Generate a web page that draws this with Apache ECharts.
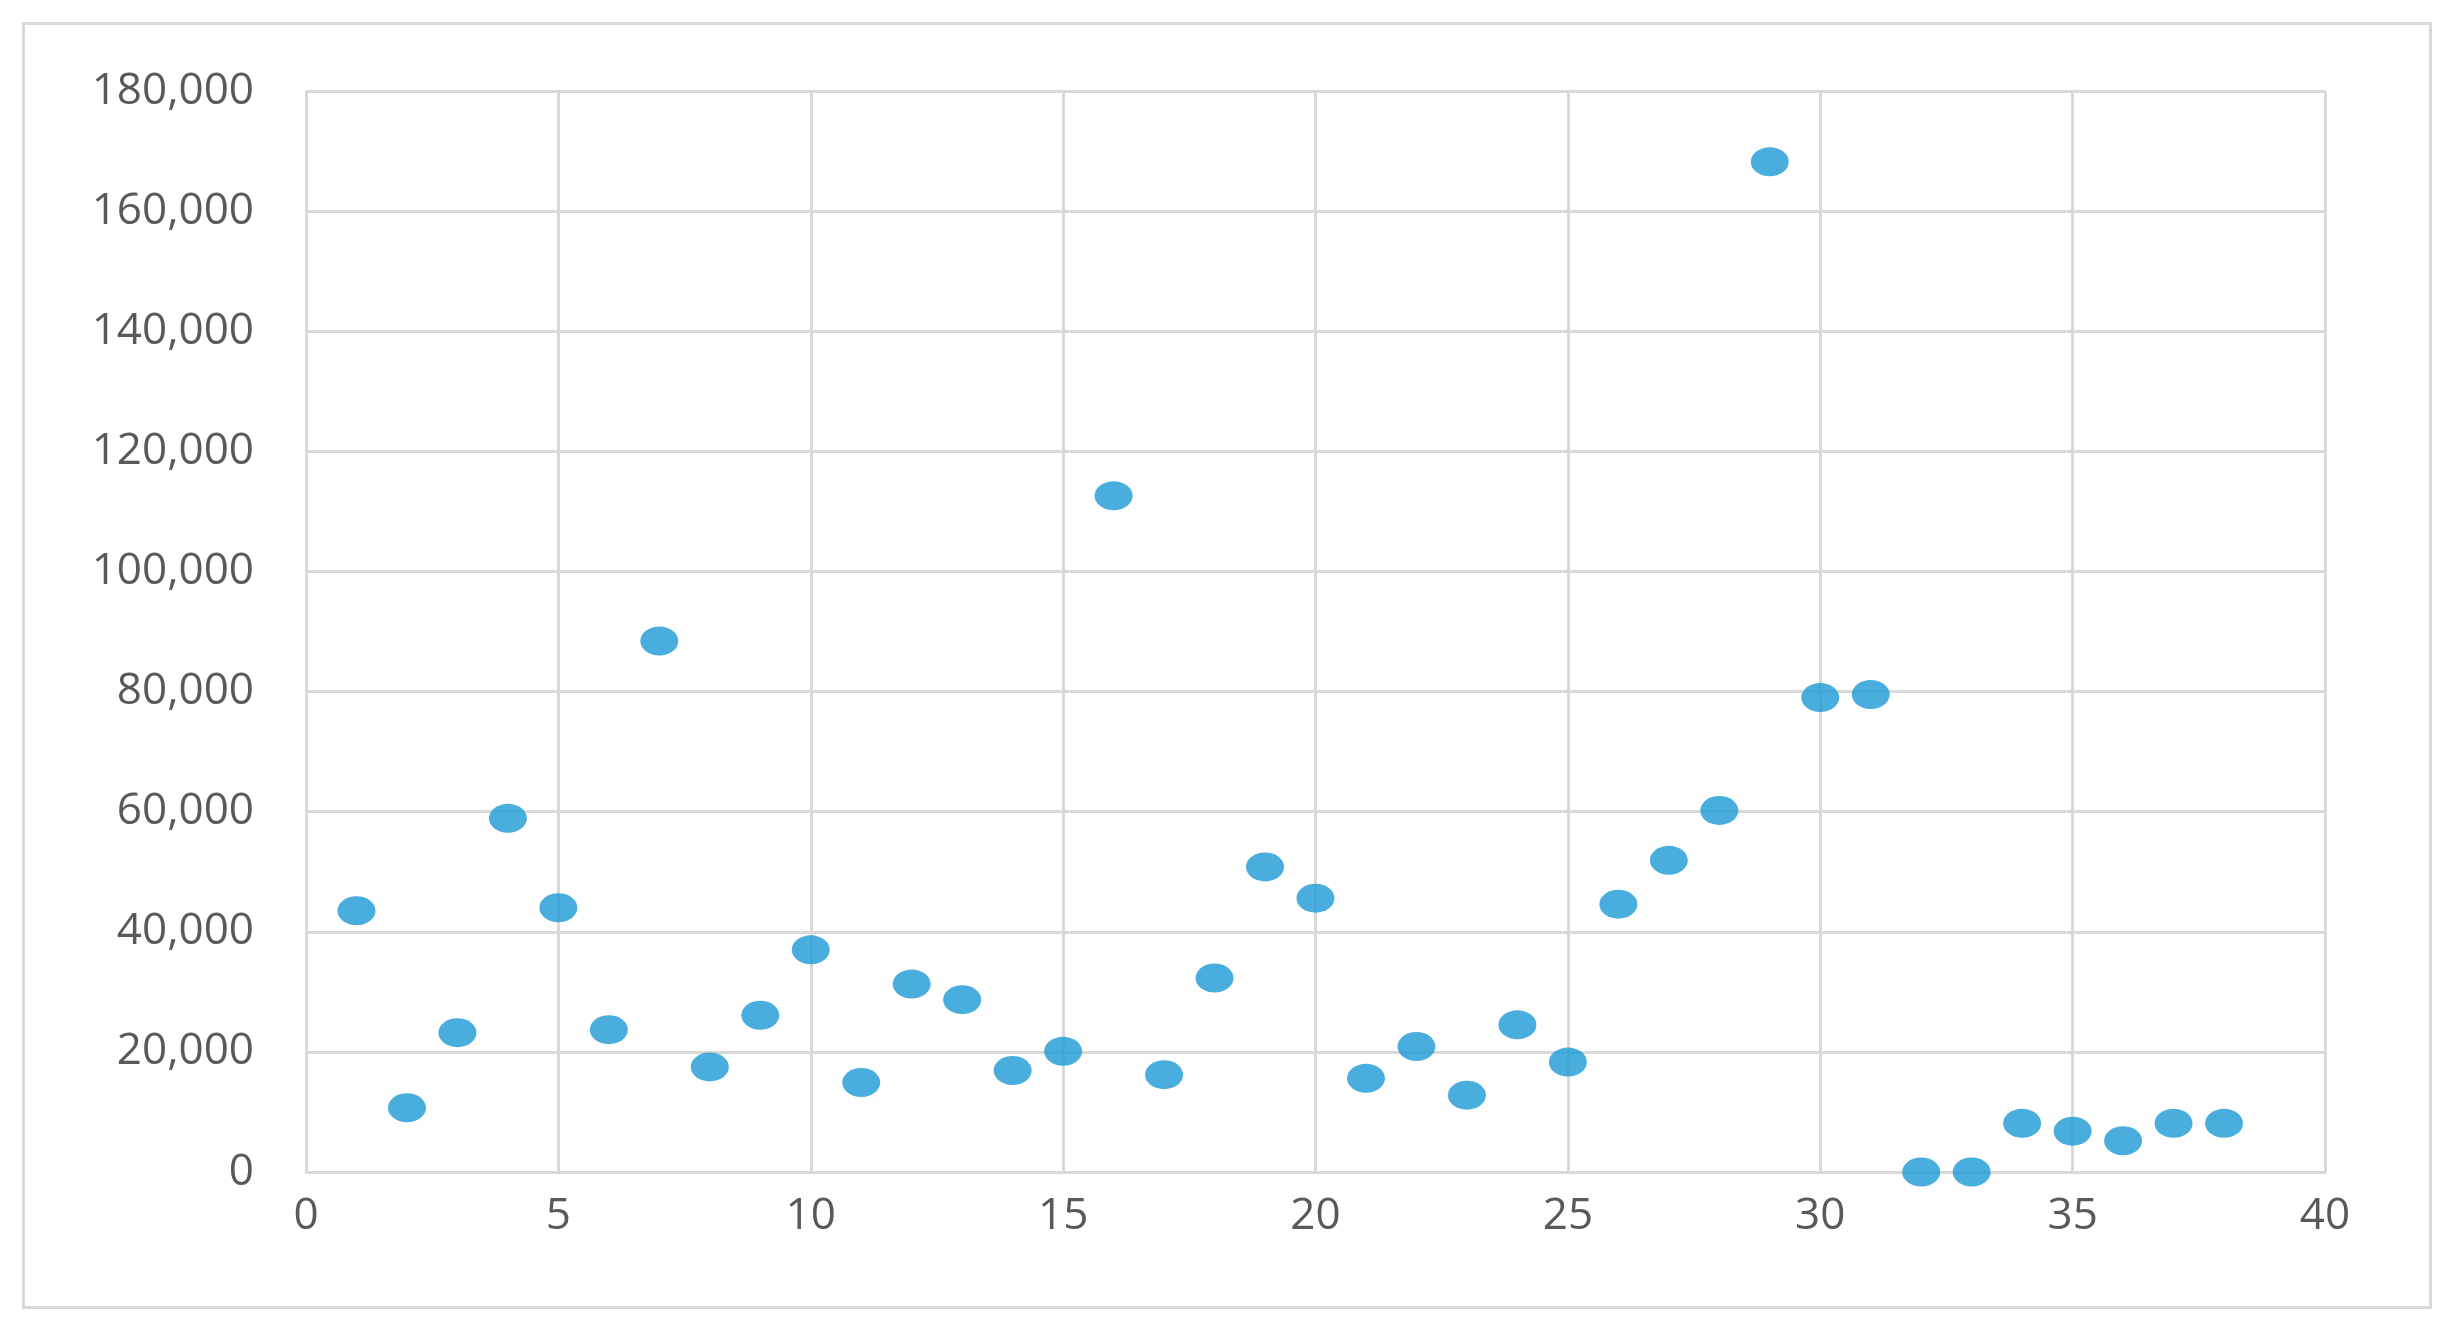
<!DOCTYPE html>
<html><head><meta charset="utf-8">
<script src="https://cdn.jsdelivr.net/npm/echarts@6/dist/echarts.min.js"></script>
<style>html,body{margin:0;background:#fff}#c{width:2457px;height:1339px}
#b{position:absolute;left:22px;top:22px;width:2410px;height:1287px;border:3px solid #d9d9d9;box-sizing:border-box;pointer-events:none}</style>
</head><body><div id="c"></div><div id="b"></div>
<script>
const xValues = [1,2,3,4,5,6,7,8,9,10,11,12,13,14,15,16,17,18,19,20,21,22,23,24,25,26,27,28,29,30,31,32,33,34,35,36,37,38];
const yValues = [43500,10700,23200,58900,44000,23700,88400,17500,26100,37000,14900,31300,28700,16900,20100,112600,16200,32300,50800,45600,15600,20900,12800,24500,18300,44600,51900,60200,168200,79000,79500,0,0,8100,6800,5200,8100,8100];
const chart = echarts.init(document.getElementById('c'));
const lbl = {color:'#595959', fontSize:44, fontFamily:'Open Sans, Noto Sans, sans-serif'};
chart.setOption({
  animation:false,
  grid:{left:306,right:2457-2325,top:91,bottom:1339-1172},
  xAxis:{type:'value',min:0,max:40,interval:5,
    axisLine:{show:true,lineStyle:{color:'#d9d9d9',width:3}},axisTick:{show:false},
    splitLine:{lineStyle:{color:'#d9d9d9',width:3}},axisLabel:Object.assign({margin:22},lbl)},
  yAxis:{type:'value',min:0,max:180000,interval:20000,
    axisLine:{show:false},axisTick:{show:false},
    splitLine:{lineStyle:{color:'#d9d9d9',width:3}},
    axisLabel:Object.assign({margin:52,formatter:v=>v.toLocaleString('en-US')},lbl)},
  series:[{type:'scatter',symbol:'circle',symbolSize:[38,29],
    itemStyle:{color:'#1b9ad6'},
    data:xValues.map((x,i)=>[x,yValues[i]])}]
});
</script></body></html>
